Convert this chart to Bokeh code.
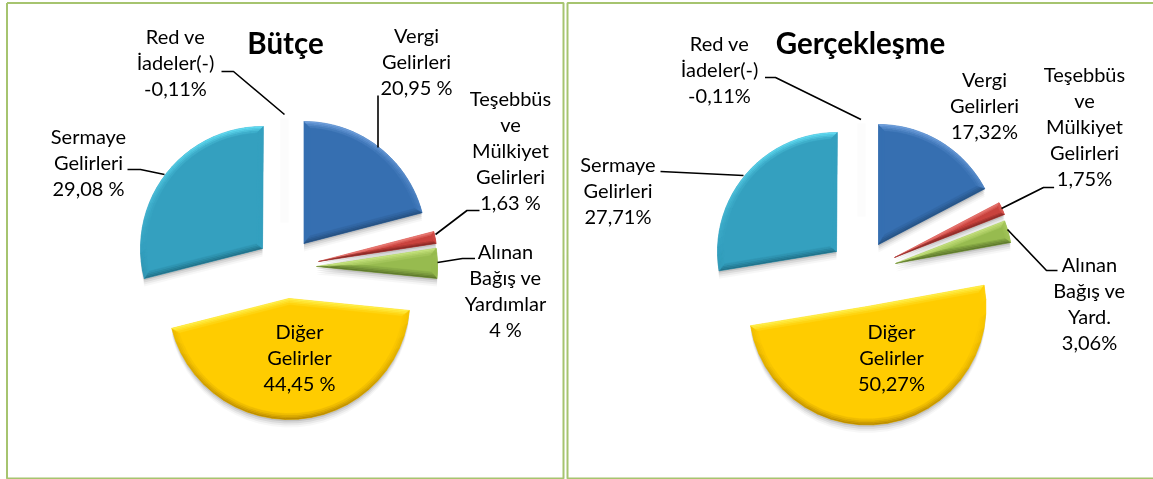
import math
from bokeh.plotting import figure, ColumnDataSource
from bokeh.embed import file_html
from bokeh.resources import INLINE
from bokeh.core.properties import value

# ---- data -------------------------------------------------------------
slices = ["Vergi", "Tesebbus", "Alinan", "Diger", "Sermaye"]
butce_values = [20.95, 1.63, 4.0, 44.45, 29.08]
gercek_values = [17.32, 1.75, 3.06, 50.27, 27.71]
red_iade_butce = -0.11
red_iade_gercek = -0.11

butce_labels = [
    ["Vergi", "Gelirleri", "20,95 %"],
    ["Teşebbüs", "ve", "Mülkiyet", "Gelirleri", "1,63 %"],
    ["Alınan", "Bağış ve", "Yardımlar", "4 %"],
    ["Diğer", "Gelirler", "44,45 %"],
    ["Sermaye", "Gelirleri", "29,08 %"],
    ["Red ve", "İadeler(-)", "-0,11%"],
]
gercek_labels = [
    ["Vergi", "Gelirleri", "17,32%"],
    ["Teşebbüs", "ve", "Mülkiyet", "Gelirleri", "1,75%"],
    ["Alınan", "Bağış ve", "Yard.", "3,06%"],
    ["Diğer", "Gelirler", "50,27%"],
    ["Sermaye", "Gelirleri", "27,71%"],
    ["Red ve", "İadeler(-)", "-0,11%"],
]
titles = ["Bütçe", "Gerçekleşme"]

# ---- layout and style --------------------------------------------------
W, H = 1153, 479
base_colors = ["#366fb1", "#c9423d", "#97bb4f", "#ffcc00", "#34a0bf"]
highlight = ["#6f9fdc", "#ea7a74", "#c6e27e", "#fff04a", "#62dcf2"]
lowlight = ["#25507f", "#8c2c29", "#5f7a2e", "#b98a00", "#22728a"]
butce_apex = [(303.5, 243), (318, 261), (316, 266), (288.5, 298), (262, 248)]
gercek_apex = [(878, 244), (894, 257), (895, 263), (867, 306), (836, 251)]
butce_r = [122, 119, 121, 121, 122]
gercek_r = [120, 118, 117, 118.5, 119]

butce_lab_pos = [(416, 34), (510, 97), (505, 250), (299, 330), (88, 135), (175, 35)]
gercek_lab_pos = [(984, 78), (1084, 73), (1089, 263), (891, 330), (617.5, 163), (719, 42)]
title_pos = [(285, 42), (860, 42)]
leaders = [
    ([221, 233, 284], [71, 71, 114]),
    ([377.5, 377.5], [95, 147]),
    ([479, 466.5, 435], [210, 210, 234]),
    ([474.5, 462, 437], [258, 258, 262]),
    ([127, 140, 164], [169, 169, 174]),
    ([764.5, 775, 860.5], [77, 77, 119]),
    ([660, 743], [171, 175]),
    ([1053.6, 1043, 1001], [187, 187, 208]),
    ([1057, 1046, 1007], [270, 270, 229]),
]
ghost_strips = [(284, 118, 222), (861, 123, 216)]
BORDER = "#a6c46f"
ARC_N = 26
BEVEL = [0, 1.5, 3, 4.5, 6]


def hex2rgb(c):
    return tuple(int(c[i:i + 2], 16) for i in (1, 3, 5))


def mix(c, d, s):
    a, b = hex2rgb(c), hex2rgb(d)
    return "#%02x%02x%02x" % tuple(int(round(u + (v - u) * s)) for u, v in zip(a, b))


def level(ax, ay, r, a0, a1, b):
    half = (a1 - a0) / 2
    b = min(b, r * math.sin(half) * 0.42)
    d = b / math.sin(half) if b else 0
    mid = (a0 + a1) / 2
    apx = ax + d * math.sin(mid)
    apy = ay - d * math.cos(mid)
    delta = math.asin(b / (r - b))
    pts = [(apx, apy)]
    for i in range(ARC_N + 1):
        t = a0 + delta + (a1 - a0 - 2 * delta) * i / ARC_N
        pts.append((ax + (r - b) * math.sin(t), ay - (r - b) * math.cos(t)))
    return pts


shadow = dict(xs=[], ys=[], alpha=[])
body = dict(xs=[], ys=[], color=[])


def add_pie(values, apexes, radii):
    ang = 0.0
    for n, (v, (ax, ay), r, col) in enumerate(zip(values, apexes, radii, base_colors)):
        a0 = math.radians(ang)
        ang += v * 3.6
        a1 = math.radians(ang)
        levels = [level(ax, ay, r, a0, a1, b) for b in BEVEL]
        o = levels[0]
        for dy, al in ((2, .10), (4, .07), (6, .05), (8, .03)):
            shadow["xs"].append([p[0] for p in o])
            shadow["ys"].append([p[1] + dy for p in o])
            shadow["alpha"].append(al)
        body["xs"].append([p[0] for p in o])
        body["ys"].append([p[1] for p in o])
        body["color"].append(col)
        cx = sum(p[0] for p in o) / len(o)
        cy = sum(p[1] for p in o) / len(o)
        m = len(o)
        for k in range(len(BEVEL) - 1):
            falloff = 1 - k / (len(BEVEL) - 1)
            A, B = levels[k], levels[k + 1]
            for i in range(m):
                j = (i + 1) % m
                ex, ey = o[j][0] - o[i][0], o[j][1] - o[i][1]
                ln = math.hypot(ex, ey) or 1
                nx, ny = ey / ln, -ex / ln
                mx, my = (o[i][0] + o[j][0]) / 2, (o[i][1] + o[j][1]) / 2
                if nx * (mx - cx) + ny * (my - cy) < 0:
                    nx, ny = -nx, -ny
                s = -ny * falloff
                c = mix(col, highlight[n], s) if s >= 0 else mix(col, lowlight[n], -s)
                body["xs"].append([A[i][0], A[j][0], B[j][0], B[i][0]])
                body["ys"].append([A[i][1], A[j][1], B[j][1], B[i][1]])
                body["color"].append(c)


add_pie(butce_values, butce_apex, butce_r)
add_pie(gercek_values, gercek_apex, gercek_r)

p = figure(width=W, height=H, x_range=(0, W), y_range=(H, 0),
           output_backend="svg", toolbar_location=None, min_border=0,
           background_fill_color="white", border_fill_color="white")
p.axis.visible = False
p.grid.visible = False
p.outline_line_color = None
p.styles = {"position": "fixed", "left": "0px", "top": "0px"}

# panel frames
p.line([6.5, 563, 563, 6.5, 6.5], [2.5, 2.5, 478, 478, 2.5], line_color=BORDER, line_width=2)
p.line([W + 5, 567, 567, W + 5], [2.5, 2.5, 478, 478], line_color=BORDER, line_width=2)

for x, y0, y1 in ghost_strips:
    p.segment([x], [y0], [x], [y1], line_color="#fcfcfc", line_width=8)

p.patches("xs", "ys", source=ColumnDataSource(shadow), fill_color="black",
          fill_alpha="alpha", line_color=None)
p.patches("xs", "ys", source=ColumnDataSource(body), fill_color="color",
          line_color="color", line_width=0.4)

for xs, ys in leaders:
    p.line(xs, ys, line_color="black", line_width=1.6)

tx, ty, tt = [], [], []
for labels, pos in ((butce_labels, butce_lab_pos), (gercek_labels, gercek_lab_pos)):
    for lines, (x, y) in zip(labels, pos):
        for i, s in enumerate(lines):
            tx.append(x)
            ty.append(y + i * 26)
            tt.append(s)
p.text(tx, ty, text=tt, text_font=value("Lato"), text_font_size="20px",
       text_align="center", text_baseline="middle", text_color="#000000")
p.text([q[0] for q in title_pos], [q[1] for q in title_pos], text=titles,
       text_font=value("Lato"), text_font_size="29.5px", text_font_style="bold",
       text_align="center", text_baseline="middle", text_color="black")

open("out.html", "w").write(file_html(p, INLINE))
